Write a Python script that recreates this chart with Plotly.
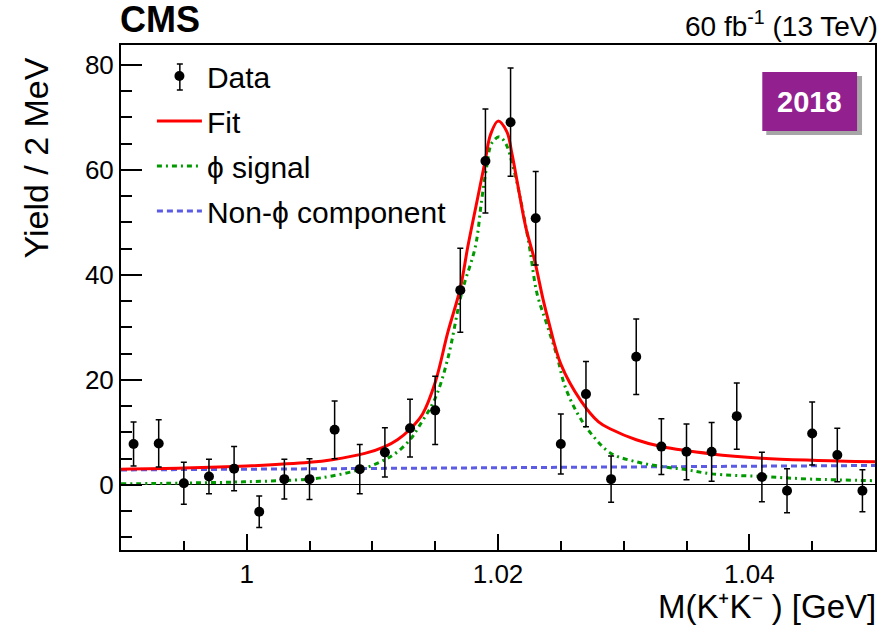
import plotly.graph_objects as go

# ---- data points (bin centres, yields, symmetric errors) ----
mass = [0.991, 0.993, 0.995, 0.997, 0.999, 1.001, 1.003, 1.005, 1.007, 1.009,
        1.011, 1.013, 1.015, 1.017, 1.019, 1.021, 1.023, 1.025, 1.027, 1.029,
        1.031, 1.033, 1.035, 1.037, 1.039, 1.041, 1.043, 1.045, 1.047, 1.049]
yield_ = [7.8, 7.9, 0.3, 1.6, 3.1, -5.1, 1.1, 1.1, 10.5, 3.0,
          6.2, 10.8, 14.2, 37.1, 61.7, 69.1, 50.8, 7.8, 17.3, 1.1,
          24.4, 7.3, 6.3, 6.3, 13.1, 1.5, -1.1, 9.8, 5.7, -1.1]
err = [4.2, 4.5, 4.0, 3.3, 4.2, 3.0, 3.8, 3.9, 5.5, 4.7,
       4.7, 5.5, 6.5, 8.0, 9.9, 10.3, 8.9, 5.7, 6.2, 4.4,
       7.2, 5.3, 5.3, 5.6, 6.3, 4.7, 4.2, 6.0, 5.1, 4.0]

# ---- curves ----
fit_x = [0.990, 0.995, 1.000, 1.005, 1.0068, 1.0094, 1.011, 1.012, 1.013, 1.014,
         1.015, 1.016, 1.017, 1.0176, 1.0183, 1.0190, 1.0194, 1.0200, 1.0207, 1.0211,
         1.0216, 1.0222, 1.0229, 1.0236, 1.0240, 1.0250, 1.0266, 1.0280, 1.0290, 1.031,
         1.033, 1.037, 1.041, 1.045, 1.050]
fit_y = [3.0, 3.2, 3.6, 4.3, 4.8, 6.0, 7.3, 8.6, 10.6, 13.5,
         19.5, 29.0, 37.5, 45.4, 53.7, 62.0, 66.7, 69.3, 67.3, 63.2,
         56.8, 49.2, 42.9, 35.2, 31.4, 23.0, 16.0, 12.0, 10.6, 8.6,
         7.3, 5.9, 5.1, 4.7, 4.4]

sig_x = [0.990, 0.995, 1.000, 1.005, 1.0068, 1.0094, 1.011, 1.012, 1.013, 1.0137,
         1.015, 1.016, 1.0171, 1.0182, 1.0187, 1.0191, 1.0195, 1.0201, 1.0206, 1.0212,
         1.0218, 1.0225, 1.0231, 1.0239, 1.0247, 1.0253, 1.0263, 1.0275, 1.029, 1.031,
         1.033, 1.035, 1.037, 1.041, 1.045, 1.050]
sig_y = [0.2, 0.35, 0.6, 1.1, 1.7, 3.2, 4.8, 6.3, 8.6, 11.1,
         16.5, 24.0, 36.5, 45.4, 54.3, 60.6, 65.1, 66.3, 65.1, 60.6,
         54.3, 45.4, 36.5, 30.5, 24.5, 19.0, 13.7, 9.5, 6.0, 4.4,
         3.5, 2.9, 2.1, 1.6, 1.1, 0.8]

bkg_x = [0.990, 1.050]
bkg_y = [2.85, 3.7]

FONT = "Liberation Sans, Arial, Helvetica, sans-serif"

# plot-area geometry in pixels (for paper-coordinate decorations)
L, R, T, B = 121, 877, 45, 550
PW, PH = R - L, B - T


def px(xp):
    return (xp - L) / PW


def py(yp):
    return (B - yp) / PH


fig = go.Figure()

fig.add_trace(go.Scatter(
    x=bkg_x, y=bkg_y, mode="lines", name="Non-\u03d5 component",
    line=dict(color="#5b5be6", width=3, dash="6px,4px"),
    legendrank=4, legendgroup="d"))
fig.add_trace(go.Scatter(
    x=sig_x, y=sig_y, mode="lines", name="\u03d5 signal", line_shape="spline",
    line=dict(color="#009a00", width=3, dash="5px,4px,2px,4px"),
    legendrank=3, legendgroup="c"))
fig.add_trace(go.Scatter(
    x=fit_x, y=fit_y, mode="lines", name="Fit", line_shape="spline",
    line=dict(color="#ff0000", width=3),
    legendrank=2, legendgroup="b"))
fig.add_trace(go.Scatter(
    x=mass, y=yield_, mode="markers", name="Data",
    marker=dict(color="black", size=10),
    error_y=dict(type="data", array=err, visible=True, color="black",
                 thickness=1.5, width=3),
    legendrank=1, legendgroup="a"))

fig.update_layout(
    width=882, height=628,
    margin=dict(l=L, r=882 - R, t=T, b=628 - B),
    paper_bgcolor="white", plot_bgcolor="white",
    font=dict(family=FONT, color="black", size=26),
    showlegend=True,
    legend=dict(x=px(152), y=py(50), xanchor="left", yanchor="top",
                bgcolor="rgba(0,0,0,0)", font=dict(size=30),
                itemwidth=45,
                traceorder="grouped", tracegroupgap=3),
    xaxis=dict(range=[0.99, 1.05], tickvals=[1.0, 1.02, 1.04],
               ticktext=["1", "1.02", "1.04"],
               ticks="inside", ticklen=16, tickwidth=2, tickcolor="black",
               minor=dict(dtick=0.005, tick0=1.0, ticks="inside", ticklen=9,
                          tickwidth=1.5, tickcolor="black"),
               showline=True, linecolor="black", linewidth=2, mirror=True,
               showgrid=False, zeroline=False,
               tickfont=dict(size=26)),
    yaxis=dict(range=[-12.4, 83.8], tickvals=[0, 20, 40, 60, 80],
               ticks="inside", ticklen=21, tickwidth=2, tickcolor="black",
               minor=dict(dtick=5, tick0=0, ticks="inside", ticklen=11,
                          tickwidth=1.5, tickcolor="black"),
               showline=True, linecolor="black", linewidth=2, mirror=True,
               showgrid=False, zeroline=True, zerolinecolor="black",
               zerolinewidth=1, tickfont=dict(size=26)),
)

# error-bar glyph for the "Data" legend entry
EBX, EBY = 180, 77
fig.add_shape(type="line", xref="paper", yref="paper",
              x0=px(EBX), x1=px(EBX), y0=py(EBY + 13), y1=py(EBY - 13),
              line=dict(color="black", width=1.5), layer="above")
for yy in (EBY - 13, EBY + 13):
    fig.add_shape(type="line", xref="paper", yref="paper",
                  x0=px(EBX - 3), x1=px(EBX + 3), y0=py(yy), y1=py(yy),
                  line=dict(color="black", width=1.5), layer="above")

# "2018" badge with shadow
fig.add_shape(type="rect", xref="paper", yref="paper",
              x0=px(768), x1=px(864), y0=py(135), y1=py(76),
              fillcolor="rgba(0,0,0,0.35)", line=dict(width=0), layer="above")
fig.add_shape(type="rect", xref="paper", yref="paper",
              x0=px(764), x1=px(859), y0=py(131), y1=py(72),
              fillcolor="#93208f", line=dict(width=0), layer="above")
fig.add_annotation(xref="paper", yref="paper", x=px(811.5), y=py(102),
                   text="<b>2018</b>", showarrow=False,
                   font=dict(size=29, color="white", family=FONT),
                   xanchor="center", yanchor="middle")

# CMS label and lumi
fig.add_annotation(xref="paper", yref="paper", x=0.0, y=1.0, xshift=-3,
                   text="<b>CMS</b>", showarrow=False, xanchor="left",
                   yanchor="bottom", yshift=3,
                   font=dict(size=36, family=FONT))
fig.add_annotation(xref="paper", yref="paper", x=1.0, y=1.0, xshift=5,
                   text="60 fb<sup>-1</sup> (13 TeV)", showarrow=False,
                   xanchor="right", yanchor="bottom", yshift=1,
                   font=dict(size=28, family=FONT))

# axis titles (ROOT style, aligned to axis end)
fig.add_annotation(xref="paper", yref="paper", x=1.0, y=0, yshift=-77,
                   xshift=3,
                   text="M(K\u207aK\u207b ) [GeV]",
                   showarrow=False, xanchor="right", yanchor="bottom",
                   font=dict(size=33, family=FONT))
fig.add_annotation(xref="paper", yref="paper", x=0, xshift=-107, y=1.0,
                   yshift=-11,
                   text="Yield / 2 MeV", textangle=-90,
                   showarrow=False, xanchor="left", yanchor="top",
                   font=dict(size=34, family=FONT))

fig.write_html("out.html", config={"displayModeBar": False},
               post_script="document.body.style.margin='0';")
